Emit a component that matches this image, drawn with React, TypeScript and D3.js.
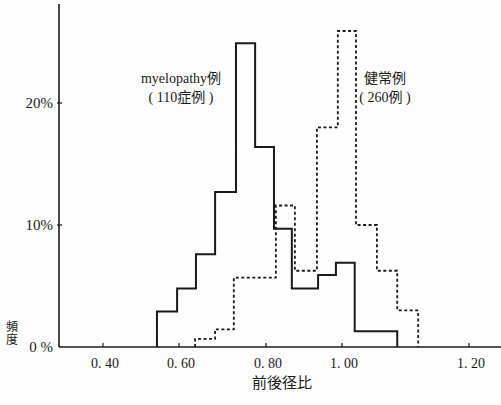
import React, { useEffect, useRef } from "react";
import * as d3 from "d3";

// x ticks (前後径比) and y ticks (頻度 %)
const xTicks = [0.4, 0.6, 0.8, 1.0, 1.2];
const xTickLabels = ["0. 40", "0. 60", "0. 80", "1. 00", "1. 20"];
const yTicks = [0, 10, 20];
const yTickLabels = ["0 %", "10%", "20%"];

// myelopathy例 (110症例): bin edges and % per bin
const myeloEdges = [0.542, 0.595, 0.639, 0.683, 0.731, 0.775, 0.821, 0.868, 0.937, 0.984, 1.02, 1.087];
const myeloValues = [2.9, 4.8, 7.6, 12.7, 24.9, 16.4, 9.7, 4.8, 5.9, 6.9, 1.3];

// 健常例 (260例)
const normalEdges = [0.637, 0.683, 0.726, 0.775, 0.826, 0.876, 0.934, 0.989, 1.022, 1.055, 1.087, 1.12];
const normalValues = [0.66, 1.45, 5.68, 5.68, 11.6, 6.25, 18.0, 25.9, 10.0, 6.25, 3.0];

const SERIF = "'Liberation Serif', 'DejaVu Serif', 'Noto Sans CJK JP', serif";
const CJK = "'Noto Sans CJK JP', sans-serif";

const Histogram = () => {
  const ref = useRef<SVGSVGElement>(null);

  useEffect(() => {
    const svg = d3.select(ref.current);
    svg.selectAll("*").remove();

    const width = 501;
    const height = 405;
    svg.attr("width", width).attr("height", height);

    svg.append("rect").attr("width", width).attr("height", height).attr("fill", "#fdfdfd");

    // the printed axis is not evenly spaced, so follow the tick marks piecewise
    const x = d3.scaleLinear().domain(xTicks).range([103, 179, 266, 342, 469]);
    const y = d3.scaleLinear().domain([0, 20]).range([347, 103]);

    const ink = "#1a1a1a";

    // axes
    svg.append("line")
      .attr("x1", 59).attr("x2", width).attr("y1", y(0)).attr("y2", y(0))
      .attr("stroke", ink).attr("stroke-width", 1.6);
    svg.append("line")
      .attr("x1", 59).attr("x2", 59).attr("y1", 4).attr("y2", y(0))
      .attr("stroke", ink).attr("stroke-width", 1.6);

    xTicks.forEach((t, i) => {
      svg.append("line")
        .attr("x1", x(t)).attr("x2", x(t)).attr("y1", y(0)).attr("y2", y(0) - 4)
        .attr("stroke", ink).attr("stroke-width", 1.2);
      svg.append("text")
        .attr("x", x(t) + 2).attr("y", 368)
        .attr("text-anchor", "middle")
        .attr("font-family", SERIF).attr("font-size", 14)
        .attr("fill", ink)
        .text(xTickLabels[i]);
    });

    yTicks.forEach((t, i) => {
      if (t > 0) {
        svg.append("line")
          .attr("x1", 57).attr("x2", 62).attr("y1", y(t)).attr("y2", y(t))
          .attr("stroke", ink).attr("stroke-width", 1.2);
      }
      svg.append("text")
        .attr("x", 53).attr("y", y(t) + 5)
        .attr("text-anchor", "end")
        .attr("font-family", SERIF).attr("font-size", 15)
        .attr("fill", ink)
        .text(yTickLabels[i]);
    });

    // 頻度 written vertically
    svg.append("text")
      .attr("x", 12).attr("y", 320)
      .attr("writing-mode", "vertical-rl")
      .attr("font-family", CJK).attr("font-size", 12)
      .attr("letter-spacing", 1)
      .attr("fill", ink)
      .text("頻度");

    svg.append("text")
      .attr("x", 282).attr("y", 388)
      .attr("text-anchor", "middle")
      .attr("font-family", CJK).attr("font-size", 15)
      .attr("fill", ink)
      .text("前後径比");

    const stepPath = (edges: number[], values: number[]) => {
      const pts: [number, number][] = [[edges[0], 0]];
      values.forEach((v, i) => pts.push([edges[i], v]));
      pts.push([edges[edges.length - 1], 0]);
      return d3.line<[number, number]>()
        .x((d) => x(d[0]))
        .y((d) => y(d[1]))
        .curve(d3.curveStepAfter)(pts);
    };

    svg.append("path")
      .attr("d", stepPath(normalEdges, normalValues))
      .attr("fill", "none")
      .attr("stroke", ink)
      .attr("stroke-width", 1.8)
      .attr("stroke-dasharray", "3,2.5");

    svg.append("path")
      .attr("d", stepPath(myeloEdges, myeloValues))
      .attr("fill", "none")
      .attr("stroke", ink)
      .attr("stroke-width", 2);

    // series labels
    const label = (lines: string[], cx: number, y0: number) => {
      lines.forEach((l, i) => {
        svg.append("text")
          .attr("x", cx).attr("y", y0 + i * 19)
          .attr("text-anchor", "middle")
          .attr("font-family", SERIF).attr("font-size", 14)
          .attr("fill", ink)
          .text(l);
      });
    };
    label(["myelopathy例", "( 110症例 )"], 181, 83);
    label(["健常例", "( 260例 )"], 385, 83);
  }, []);

  return <svg ref={ref} style={{ position: "absolute", left: 0, top: 0 }}></svg>;
};

export default function App() {
  return <Histogram />;
}
